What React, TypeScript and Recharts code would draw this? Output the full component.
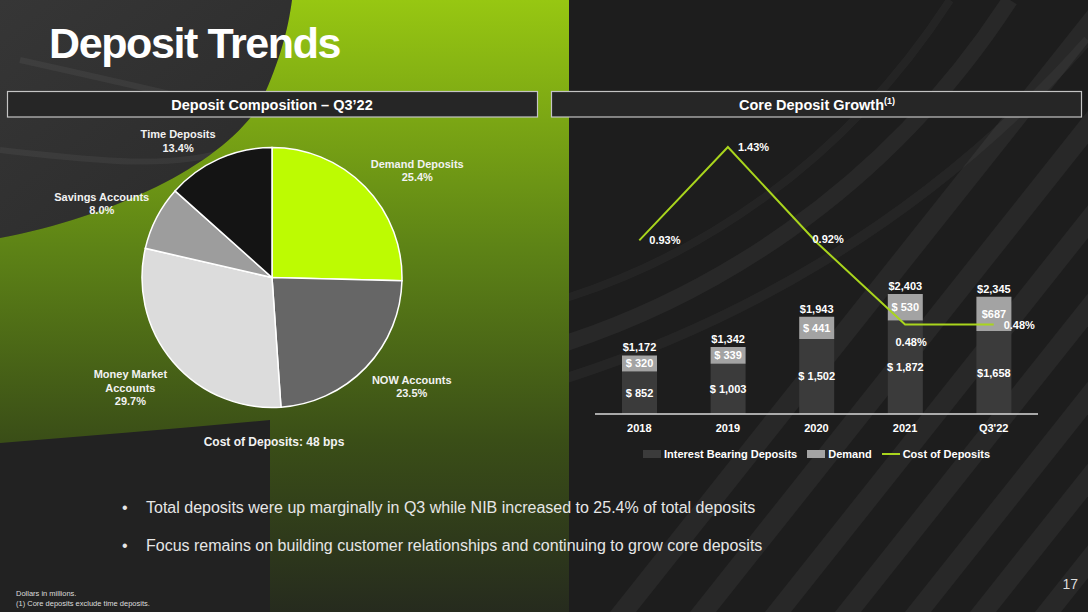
import { Bar, Cell, ComposedChart, LabelList, Legend, Line, Pie, PieChart, XAxis, YAxis } from 'recharts';

const FONT = '"Liberation Sans", Arial, sans-serif';

// deposit composition, Q3'22 (% of total)
const sliceLabels = [['Demand Deposits'], ['NOW Accounts'], ['Money Market', 'Accounts'], ['Savings Accounts'], ['Time Deposits']];
const sliceShares = [25.4, 23.5, 29.7, 8.0, 13.4];
const sliceColors = ['#bdfb02', '#666666', '#dcdcdc', '#9d9d9d', '#141414'];

// core deposit growth ($M) and cost of deposits (%)
const years = ['2018', '2019', '2020', '2021', "Q3'22"];
const interestBearing = [852, 1003, 1502, 1872, 1658];
const demand = [320, 339, 441, 530, 687];
const totals = [1172, 1342, 1943, 2403, 2345];
const costOfDeposits = [0.93, 1.43, 0.92, 0.48, 0.48];
const seriesNames = ['Interest Bearing Deposits', 'Demand', 'Cost of Deposits'];

const bullets = [
  'Total deposits were up marginally in Q3 while NIB increased to 25.4% of total deposits',
  'Focus remains on building customer relationships and continuing to grow core deposits',
];

const sliceRows = sliceShares.map((share, i) => ({ name: sliceLabels[i].join(' '), share }));
const growthRows = years.map((year, i) => ({
  year,
  interestBearing: interestBearing[i],
  demand: demand[i],
  total: totals[i],
  cost: costOfDeposits[i],
}));

let ctx: CanvasRenderingContext2D | null = null;
function textWidth(s: string, font: string) {
  if (!ctx) ctx = document.createElement('canvas').getContext('2d');
  if (!ctx) return s.length * 6.2;
  ctx.font = font;
  return ctx.measureText(s).width;
}

// outside-end labels, box corner sits next to the rim like PowerPoint does it
function SliceLabel(props: any) {
  const { cx, cy, midAngle, outerRadius, index } = props;
  const rad = Math.PI / 180;
  const cos = Math.cos(-midAngle * rad);
  const sin = Math.sin(-midAngle * rad);
  const px = cx + (outerRadius + 8) * cos;
  const py = cy + (outerRadius + 8) * sin;
  const lines = [...sliceLabels[index], sliceShares[index].toFixed(1) + '%'];
  const w = Math.max(...lines.map((l) => textWidth(l, `bold 11px ${FONT}`)));
  const lh = 13.5;
  const x = cos >= 0 ? px + w / 2 : px - w / 2;
  const y0 = sin < 0 ? py - 4 - (lines.length - 1) * lh : py + 7;
  return (
    <text textAnchor="middle" fill="#f2f2f2" fontSize={11} fontWeight="bold" fontFamily={FONT}>
      {lines.map((l, i) => (
        <tspan key={i} x={x} y={y0 + i * lh} dominantBaseline="central">{l}</tspan>
      ))}
    </text>
  );
}

function boxOf(props: any) {
  const vb = props.viewBox ?? {};
  return {
    x: Number(vb.x ?? props.x),
    y: Number(vb.y ?? props.y),
    w: Number(vb.width ?? props.width ?? 0),
    h: Number(vb.height ?? props.height ?? 0),
  };
}

function MoneyInside(props: any) {
  const { x, y, w, h } = boxOf(props);
  const prefix = props.index === years.length - 1 ? '$' : '$ ';
  return (
    <text x={x + w / 2} y={y + h / 2} textAnchor="middle" dominantBaseline="central"
      fill="#ffffff" fontSize={11} fontWeight="bold" fontFamily={FONT}>
      {prefix + Number(props.value).toLocaleString('en-US')}
    </text>
  );
}

function TotalOnTop(props: any) {
  const { x, y, w } = boxOf(props);
  return (
    <text x={x + w / 2} y={y - 8} textAnchor="middle" dominantBaseline="central"
      fill="#ffffff" fontSize={11} fontWeight="bold" fontFamily={FONT}>
      {'$' + Number(props.value).toLocaleString('en-US')}
    </text>
  );
}

const costLabelPlacement = [
  { dx: 10, dy: 0, anchor: 'start' },
  { dx: 10, dy: 0, anchor: 'start' },
  { dx: -4, dy: -3, anchor: 'start' },
  { dx: 6, dy: 18, anchor: 'middle' },
  { dx: 10, dy: 1, anchor: 'start' },
];

function CostLabel(props: any) {
  const { x, y } = boxOf(props);
  const p = costLabelPlacement[props.index] ?? costLabelPlacement[0];
  return (
    <text x={x + p.dx} y={y + p.dy} textAnchor={p.anchor as any} dominantBaseline="central"
      fill="#ffffff" fontSize={11} fontWeight="bold" fontFamily={FONT}>
      {Number(props.value).toFixed(2) + '%'}
    </text>
  );
}

function GrowthLegend(props: any) {
  const payload = [...(props.payload ?? [])].sort(
    (a: any, b: any) => seriesNames.indexOf(a.value) - seriesNames.indexOf(b.value),
  );
  return (
    <div style={{ display: 'flex', justifyContent: 'center', alignItems: 'center', fontFamily: FONT, fontSize: 11, fontWeight: 'bold', color: '#ffffff', lineHeight: '14px' }}>
      {payload.map((p: any, i: number) => (
        <div key={i} style={{ display: 'flex', alignItems: 'center', marginRight: i < payload.length - 1 ? 10 : 0 }}>
          {p.type === 'line'
            ? <span style={{ display: 'inline-block', width: 18, height: 0, borderTop: `2px solid ${p.color}`, marginRight: 3 }} />
            : <span style={{ display: 'inline-block', width: 18, height: 8, background: p.color, marginRight: 3 }} />}
          <span>{p.value}</span>
        </div>
      ))}
    </div>
  );
}

function Backdrop() {
  const stripes = [610, 690, 765, 835, 905, 970, 1035];
  return (
    <svg width={1088} height={612} style={{ position: 'absolute', left: 0, top: 0 }}>
      <defs>
        <linearGradient id="greenFade" x1="0" y1="0" x2="0" y2="1">
          <stop offset="0" stopColor="#97c712" />
          <stop offset="0.4" stopColor="#5e8416" />
          <stop offset="0.72" stopColor="#3a4e17" />
          <stop offset="1" stopColor="#262b1e" />
        </linearGradient>
        <linearGradient id="darkTop" x1="0" y1="0" x2="1" y2="1">
          <stop offset="0" stopColor="#363636" />
          <stop offset="1" stopColor="#2a2a2a" />
        </linearGradient>
        <clipPath id="rightPanel">
          <rect x={569} y={0} width={519} height={612} />
        </clipPath>
      </defs>
      <rect width={1088} height={612} fill="#222222" />
      <rect x={569} y={0} width={519} height={612} fill="#1d1d1d" />
      <g clipPath="url(#rightPanel)">
        {stripes.map((a, i) => (
          <polygon key={i} points={`${a},612 ${a + 26},612 ${a + 512},0 ${a + 486},0`} fill="rgba(255,255,255,0.05)" />
        ))}
        <path d="M560,345 C700,300 880,200 1010,0" stroke="rgba(255,255,255,0.05)" strokeWidth={16} fill="none" />
        <path d="M560,380 C720,330 920,230 1088,40" stroke="rgba(255,255,255,0.04)" strokeWidth={10} fill="none" />
        <path d="M560,300 C690,260 840,170 950,0" stroke="rgba(255,255,255,0.035)" strokeWidth={8} fill="none" />
      </g>
      <path d="M0,0 L292,0 C288,30 280,60 262,100 C230,160 120,215 0,238 Z" fill="url(#darkTop)" />
      <path d="M20,60 C110,80 200,100 268,118 M0,150 C90,160 170,170 230,150" stroke="rgba(255,255,255,0.05)" strokeWidth={6} fill="none" />
      <path
        d="M292,0 L569,0 L569,612 L270,612 L270,420 C180,428 90,436 0,443 L0,238 C120,215 230,160 262,100 C280,60 288,30 292,0 Z"
        fill="url(#greenFade)"
      />

      <text x={49} y={58} fill="#ffffff" fontSize={43} fontWeight="bold" letterSpacing={-1.4} fontFamily={FONT}>Deposit Trends</text>

      <rect x={7.5} y={91.5} width={530} height={25.5} fill="#262626" stroke="#c4c4c4" strokeWidth={1.2} />
      <text x={272} y={109.5} textAnchor="middle" fill="#ffffff" fontSize={14.5} fontWeight="bold" fontFamily={FONT}>Deposit Composition – Q3’22</text>
      <rect x={551.5} y={91.5} width={530} height={25.5} fill="#262626" stroke="#c4c4c4" strokeWidth={1.2} />
      <text x={817} y={109.5} textAnchor="middle" fill="#ffffff" fontSize={14.5} fontWeight="bold" fontFamily={FONT}>
        Core Deposit Growth<tspan fontSize={9} dy={-6}>(1)</tspan>
      </text>

      <text x={274} y={446} textAnchor="middle" fill="#f2f2f2" fontSize={12} fontWeight="bold" fontFamily={FONT}>Cost of Deposits: 48 bps</text>

      {bullets.map((b, i) => (
        <g key={i}>
          <text x={122} y={513 + i * 38} fill="#e6e6e6" fontSize={16} fontFamily={FONT}>•</text>
          <text x={146} y={513 + i * 38} fill="#e6e6e6" fontSize={16} fontFamily={FONT}>{b}</text>
        </g>
      ))}

      <text x={1078} y={589} textAnchor="end" fill="#dddddd" fontSize={14} fontFamily={FONT}>17</text>
      <text x={16} y={596} fill="#dddddd" fontSize={7.5} fontFamily={FONT}>Dollars in millions.</text>
      <text x={16} y={606} fill="#dddddd" fontSize={7.5} fontFamily={FONT}>(1) Core deposits exclude time deposits.</text>
    </svg>
  );
}

export default function App() {
  return (
    <div style={{ position: 'absolute', left: 0, top: 0, width: 1088, height: 612, overflow: 'hidden', fontFamily: FONT }}>
      <Backdrop />

      <div style={{ position: 'absolute', left: 0, top: 110 }}>
        <PieChart width={545} height={350} margin={{ top: 0, right: 0, bottom: 0, left: 0 }}>
          <Pie
            data={sliceRows}
            dataKey="share"
            nameKey="name"
            cx={272}
            cy={167.5}
            outerRadius={130}
            startAngle={90}
            endAngle={-270}
            stroke="#ffffff"
            strokeWidth={1.5}
            label={SliceLabel}
            labelLine={false}
            isAnimationActive={false}
          >
            {sliceRows.map((_, i) => (
              <Cell key={i} fill={sliceColors[i]} />
            ))}
          </Pie>
        </PieChart>
      </div>

      <div style={{ position: 'absolute', left: 560, top: 120 }}>
        <ComposedChart width={528} height={380} data={growthRows} margin={{ top: 14, right: 50, bottom: 56, left: 35 }}>
          <XAxis
            dataKey="year"
            interval={0}
            tickLine={false}
            tickMargin={4}
            axisLine={{ stroke: '#d9d9d9', strokeWidth: 1.3 }}
            tick={{ fill: '#ffffff', fontSize: 11, fontWeight: 'bold', fontFamily: FONT }}
          />
          <YAxis yAxisId="usd" hide domain={[0, 5600]} />
          <YAxis yAxisId="pct" orientation="right" hide domain={[0, 1.5]} />
          <Legend verticalAlign="middle" align="center" content={GrowthLegend} wrapperStyle={{ top: 327, left: 35, width: 443 }} />
          <Bar yAxisId="usd" dataKey="interestBearing" name="Interest Bearing Deposits" stackId="deposits" fill="#3b3b3b" barSize={35} isAnimationActive={false}>
            <LabelList dataKey="interestBearing" content={MoneyInside} />
          </Bar>
          <Bar yAxisId="usd" dataKey="demand" name="Demand" stackId="deposits" fill="#a3a3a3" barSize={35} isAnimationActive={false}>
            <LabelList dataKey="demand" content={MoneyInside} />
            <LabelList dataKey="total" content={TotalOnTop} />
          </Bar>
          <Line yAxisId="pct" type="linear" dataKey="cost" name="Cost of Deposits" stroke="#a9d51d" strokeWidth={2} dot={false} isAnimationActive={false}>
            <LabelList dataKey="cost" content={CostLabel} />
          </Line>
        </ComposedChart>
      </div>
    </div>
  );
}
